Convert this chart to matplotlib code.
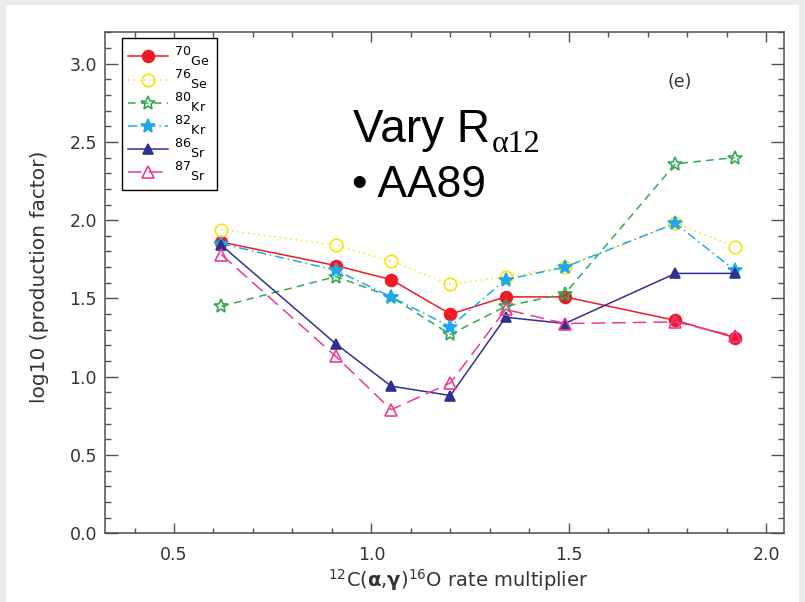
import matplotlib.pyplot as plt
from matplotlib.patches import Rectangle
from matplotlib.ticker import MultipleLocator

# data
multiplier = [0.62, 0.91, 1.05, 1.20, 1.34, 1.49, 1.77, 1.92]
ge70 = [1.86, 1.71, 1.62, 1.40, 1.51, 1.51, 1.36, 1.25]
se76 = [1.94, 1.84, 1.74, 1.59, 1.64, 1.70, 1.98, 1.83]
kr80 = [1.45, 1.64, 1.51, 1.27, 1.45, 1.53, 2.36, 2.40]
kr82 = [1.85, 1.68, 1.51, 1.32, 1.62, 1.70, 1.98, 1.68]
sr86 = [1.84, 1.21, 0.94, 0.88, 1.38, 1.34, 1.66, 1.66]
sr87 = [1.78, 1.13, 0.79, 0.96, 1.43, 1.34, 1.35, 1.26]
labels = [r'$^{70}{}_{\mathrm{Ge}}$', r'$^{76}{}_{\mathrm{Se}}$', r'$^{80}{}_{\mathrm{Kr}}$',
          r'$^{82}{}_{\mathrm{Kr}}$', r'$^{86}{}_{\mathrm{Sr}}$', r'$^{87}{}_{\mathrm{Sr}}$']

W, H = 805, 602


def px(x, y):
    # pixel position (from top-left) -> figure fraction
    return x / W, 1 - y / H


fig = plt.figure(figsize=(W / 100, H / 100), dpi=100, facecolor='#ebebeb')
fig.patches.append(Rectangle((6 / W, 0), 793 / W, 597 / H, transform=fig.transFigure,
                             facecolor='white', edgecolor='none', zorder=-1))

ax = fig.add_axes([105.3 / W, 68.7 / H, 678.7 / W, 501 / H])

# series styles: (values, color, linestyle, marker, filled, markersize)
styles = [
    (ge70, '#ec1c24', '-', 'o', True, 8.5),
    (se76, '#f7e40c', (0, (1, 2.5)), 'o', False, 9),
    (kr80, '#35a853', (0, (5, 3.5)), '*', False, 10.5),
    (kr82, '#1fa9ec', (0, (6, 2.5, 1, 2.5)), '*', True, 10),
    (sr86, '#2e3192', '-', '^', True, 7),
    (sr87, '#ec3a94', (0, (9, 4.5)), '^', False, 8),
]

for (vals, col, ls, mk, filled, ms), lab in zip(styles, labels):
    ax.plot(multiplier, vals, color=col, linestyle=ls, linewidth=1.1,
            marker=mk, markersize=ms, markeredgecolor=col, markeredgewidth=1.2,
            markerfacecolor=col if filled else 'none', label=lab)

ax.set_xlim(0.326, 2.045)
ax.set_ylim(0.0, 3.2)
ax.xaxis.set_major_locator(MultipleLocator(0.5))
ax.xaxis.set_minor_locator(MultipleLocator(0.1))
ax.yaxis.set_major_locator(MultipleLocator(0.5))
ax.yaxis.set_minor_locator(MultipleLocator(0.1))
ax.xaxis.set_major_formatter(plt.FormatStrFormatter('%.1f'))
ax.yaxis.set_major_formatter(plt.FormatStrFormatter('%.1f'))

for s in ax.spines.values():
    s.set_color('#505050')
    s.set_linewidth(1.1)
ax.tick_params(which='both', direction='in', top=True, right=True, colors='#505050',
               labelcolor='#333333', labelsize=12.5, width=1.0)
ax.tick_params(axis='x', which='major', length=7.2, pad=9.5)
ax.tick_params(axis='x', which='minor', length=3.6)
ax.tick_params(axis='y', which='major', length=9.4, pad=6)
ax.tick_params(axis='y', which='minor', length=4.3)

leg = ax.legend(loc='upper left', bbox_to_anchor=(0.0246, 0.988), borderaxespad=0,
                fontsize=13, handlelength=2.2, handletextpad=0.35, labelspacing=0.0,
                borderpad=0.35, fancybox=False, framealpha=1, edgecolor='black')
leg.get_frame().set_linewidth(1.0)

fig.text(*px(40, 277), 'log10 (production factor)', rotation=90, ha='center', va='center',
         fontsize=14.5, color='#333333')
fig.text(*px(458, 580), r'$^{12}$C($\mathbf{\alpha}$,$\mathbf{\gamma}$)$^{16}$O rate multiplier',
         ha='center', va='center', fontsize=14, color='#333333')
fig.text(*px(680, 82), '(e)', ha='center', va='center', fontsize=12.5, color='#333333')

# slide annotation
fig.text(*px(353, 142), 'Vary R', ha='left', va='baseline', fontsize=33,
         family='Liberation Sans', color='black')
fig.text(*px(492, 152), 'α12', ha='left', va='baseline', fontsize=23,
         family='Liberation Serif', color='black')
fig.text(*px(352, 197), '• AA89', ha='left', va='baseline', fontsize=32,
         family='Liberation Sans', color='black')

fig.savefig('out.png', dpi=100)
